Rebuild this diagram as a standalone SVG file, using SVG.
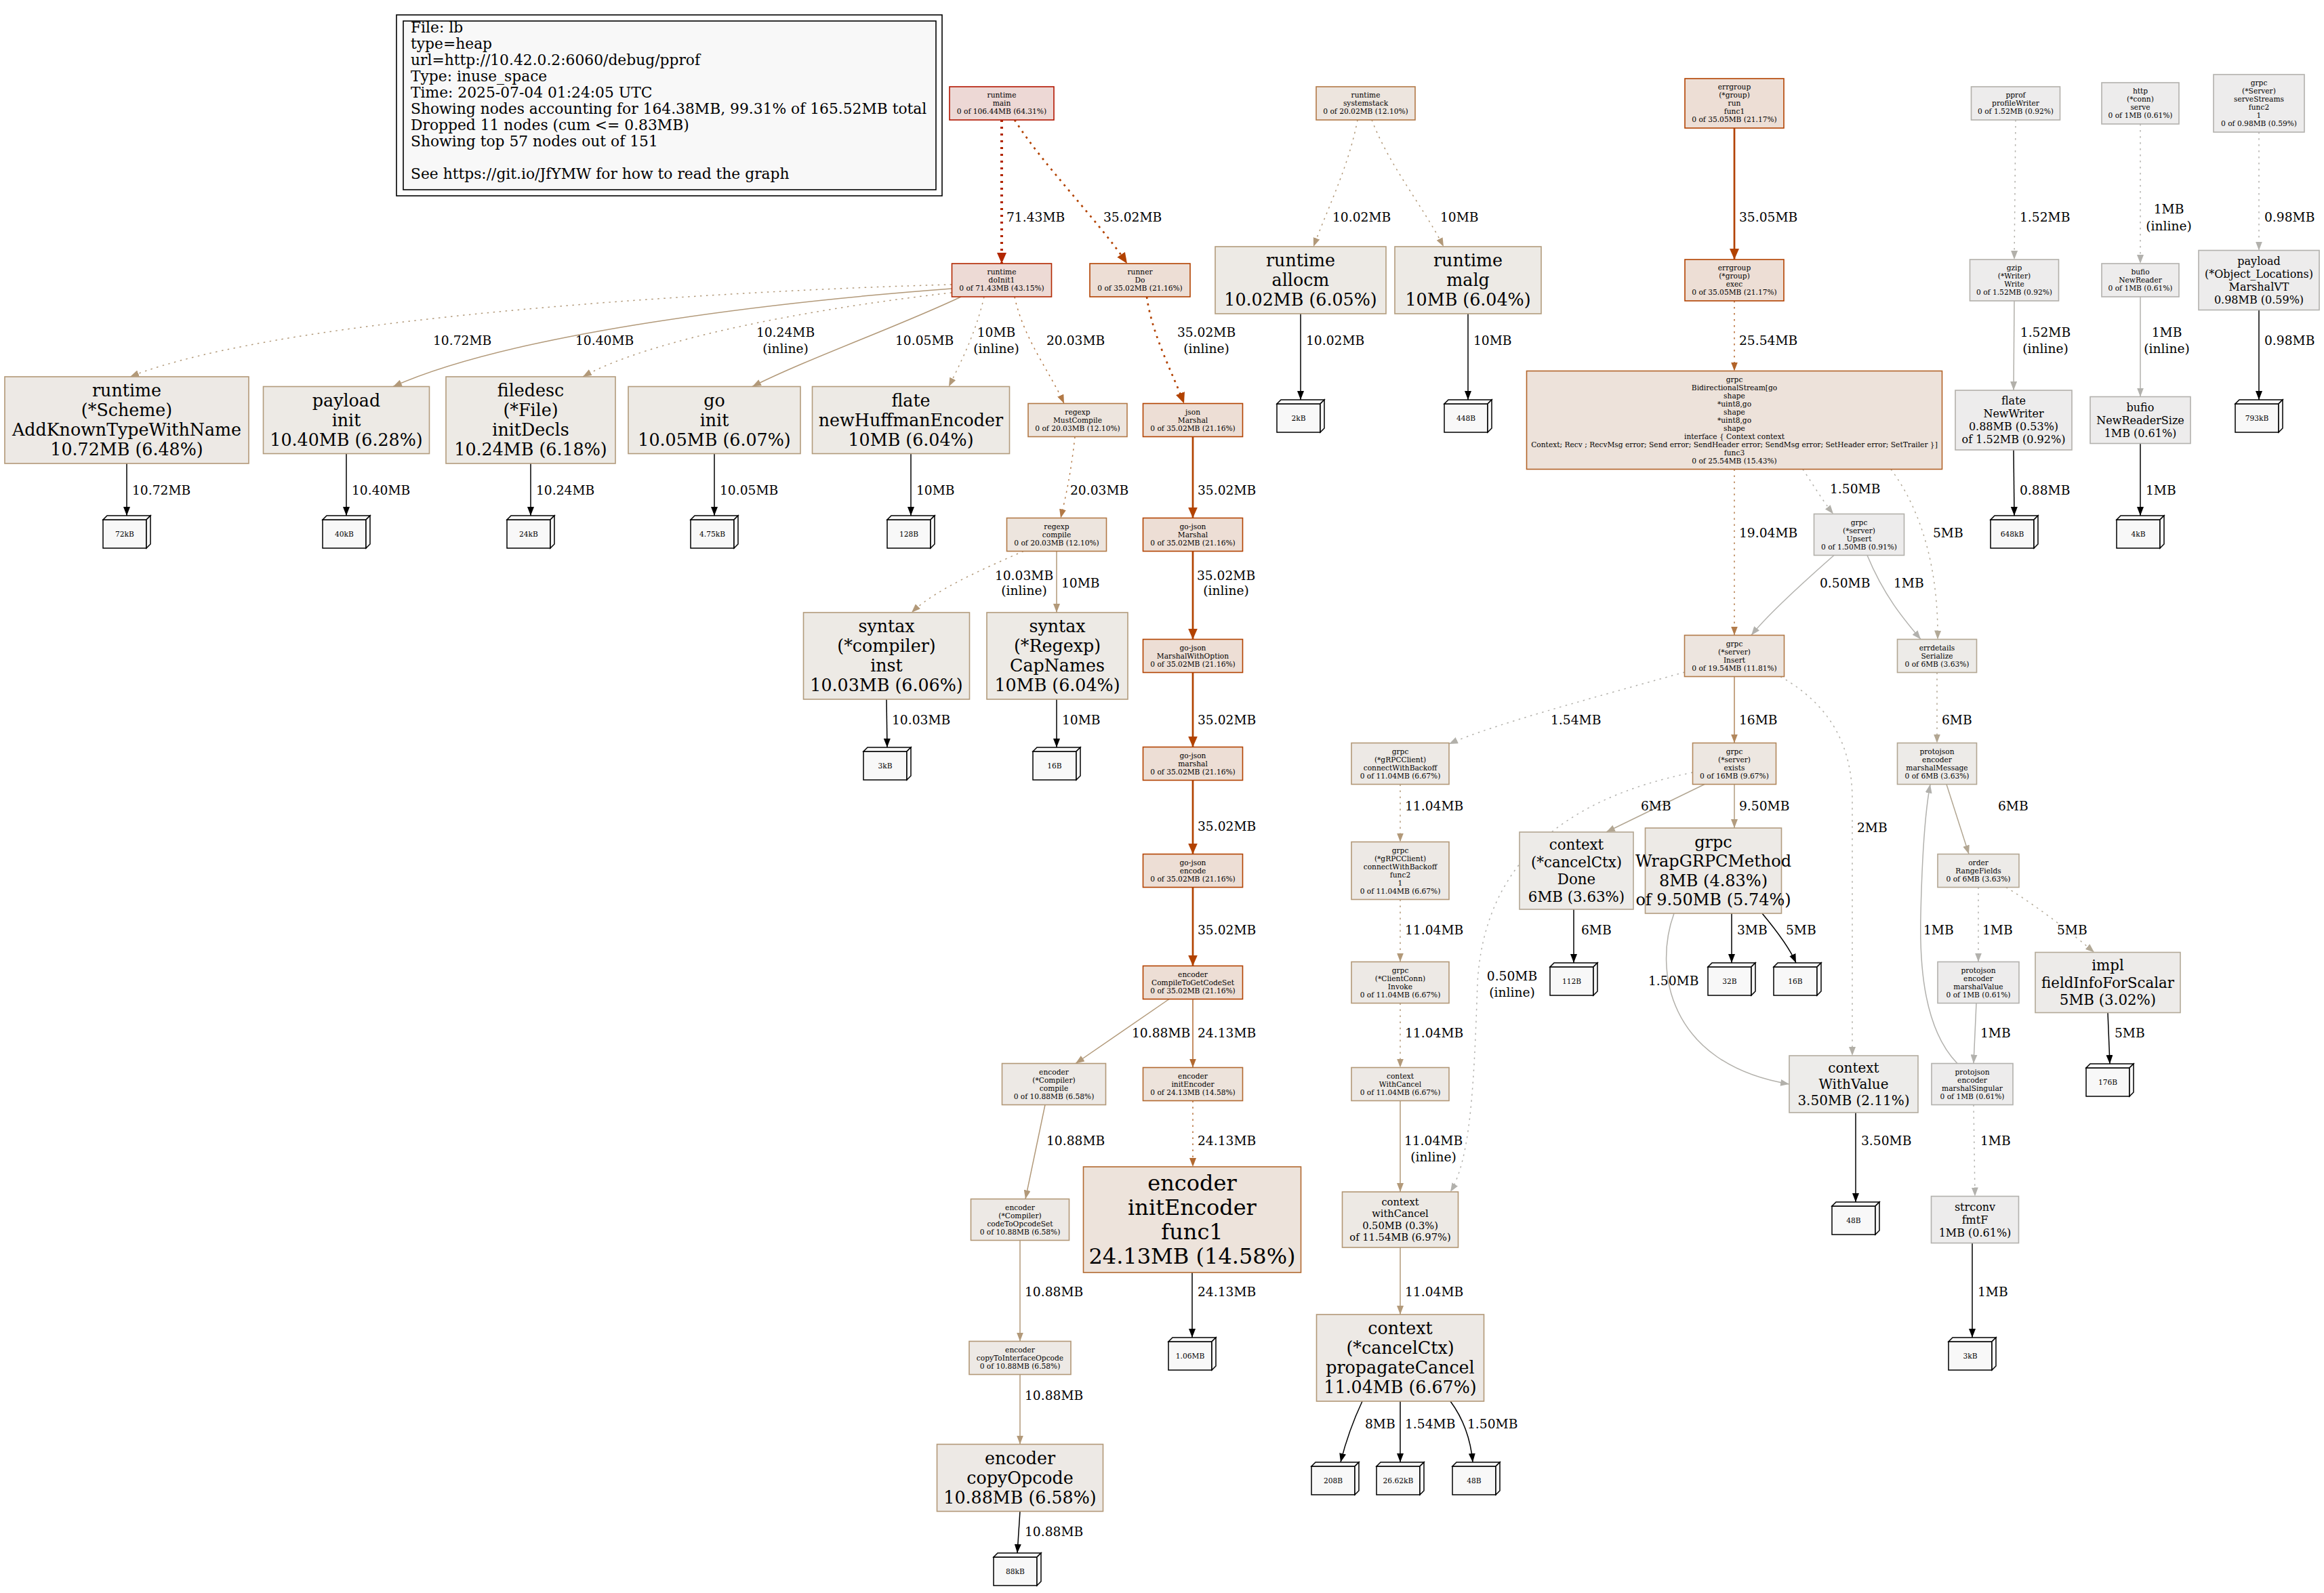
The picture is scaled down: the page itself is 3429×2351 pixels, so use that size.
<svg xmlns="http://www.w3.org/2000/svg" width="3429" height="2351" viewBox="0 0 3429 2351">
<style>
text{font-family:"DejaVu Serif",serif;fill:#000}
.nt{text-anchor:middle}
.f8{font-size:10.67px}.f11{font-size:14.67px}.f12{font-size:16px}.f15{font-size:20px}.f16{font-size:21.33px}.f18{font-size:24px}.f19{font-size:25.33px}.f24{font-size:32px}
.el{font-size:18.67px}.elc{font-size:18.67px;text-anchor:middle}.lg{font-size:21.8px}
.lf{fill:#f8f8f8;stroke:#000;stroke-width:1.5}
rect{stroke-width:1.6}
.k64{fill:#edd8d5;stroke:#b21600}.k43{fill:#eddad5;stroke:#b22700}.k21{fill:#edded5;stroke:#b24200}.k15{fill:#ede2da;stroke:#b26328}.k14{fill:#ede3db;stroke:#b26930}.k12{fill:#ede5de;stroke:#b27946}.k11{fill:#ede5df;stroke:#b27a49}.k9{fill:#ede7e1;stroke:#b2875c}.k7{fill:#ede9e4;stroke:#b29674}.k6{fill:#ede9e5;stroke:#b29877}.k6b{fill:#edeae5;stroke:#b29b7c}.k5{fill:#edeae6;stroke:#b29c7f}.k3{fill:#edebe8;stroke:#b2a692}.k3b{fill:#edebe9;stroke:#b2a997}.k2{fill:#edecea;stroke:#b2ac9f}.k1{fill:#edecec;stroke:#b2b0aa}.k0{fill:#edecec;stroke:#b2b1ad}
.e{fill:none;stroke-width:1.5}.d{stroke-dasharray:2.5 6.5}.w2{stroke-width:2.7}.w3{stroke-width:4}.w2.d,.w3.d{stroke-dasharray:3 7}
.c-red{stroke:#b22700;marker-end:url(#a-red)}.c-or{stroke:#b24200;marker-end:url(#a-or)}.c-cu{stroke:#b26328;marker-end:url(#a-cu)}.c-cu2{stroke:#b26930;marker-end:url(#a-cu2)}.c-ot{stroke:#b27946;marker-end:url(#a-ot)}.c-ot2{stroke:#b27c4b;marker-end:url(#a-ot2)}.c-bt{stroke:#b2875c;marker-end:url(#a-bt)}.c-tan{stroke:#b29979;marker-end:url(#a-tan)}.c-tl{stroke:#b29c7f;marker-end:url(#a-tl)}.c-kh{stroke:#b2a692;marker-end:url(#a-kh)}.c-kh2{stroke:#b2a997;marker-end:url(#a-kh2)}.c-g2{stroke:#b2afa7;marker-end:url(#a-g2)}.c-g{stroke:#b2b0aa;marker-end:url(#a-g)}.c-g1{stroke:#b2b1ad;marker-end:url(#a-g1)}.c-k{stroke:#000;marker-end:url(#a-k)}
</style>
<defs>
<marker id="a-red" viewBox="0 0 16 14" refX="16" refY="7" markerWidth="16" markerHeight="14" markerUnits="userSpaceOnUse" orient="auto"><path d="M0,0L16,7L0,14z" fill="#b22700"/></marker>
<marker id="a-or" viewBox="0 0 16 14" refX="16" refY="7" markerWidth="16" markerHeight="14" markerUnits="userSpaceOnUse" orient="auto"><path d="M0,0L16,7L0,14z" fill="#b24200"/></marker>
<marker id="a-cu" viewBox="0 0 13 10" refX="13" refY="5" markerWidth="13" markerHeight="10" markerUnits="userSpaceOnUse" orient="auto"><path d="M0,0L13,5L0,10z" fill="#b26328"/></marker>
<marker id="a-cu2" viewBox="0 0 13 10" refX="13" refY="5" markerWidth="13" markerHeight="10" markerUnits="userSpaceOnUse" orient="auto"><path d="M0,0L13,5L0,10z" fill="#b26930"/></marker>
<marker id="a-ot" viewBox="0 0 13 10" refX="13" refY="5" markerWidth="13" markerHeight="10" markerUnits="userSpaceOnUse" orient="auto"><path d="M0,0L13,5L0,10z" fill="#b27946"/></marker>
<marker id="a-ot2" viewBox="0 0 13 10" refX="13" refY="5" markerWidth="13" markerHeight="10" markerUnits="userSpaceOnUse" orient="auto"><path d="M0,0L13,5L0,10z" fill="#b27c4b"/></marker>
<marker id="a-bt" viewBox="0 0 13 10" refX="13" refY="5" markerWidth="13" markerHeight="10" markerUnits="userSpaceOnUse" orient="auto"><path d="M0,0L13,5L0,10z" fill="#b2875c"/></marker>
<marker id="a-tan" viewBox="0 0 13 10" refX="13" refY="5" markerWidth="13" markerHeight="10" markerUnits="userSpaceOnUse" orient="auto"><path d="M0,0L13,5L0,10z" fill="#b29979"/></marker>
<marker id="a-tl" viewBox="0 0 13 10" refX="13" refY="5" markerWidth="13" markerHeight="10" markerUnits="userSpaceOnUse" orient="auto"><path d="M0,0L13,5L0,10z" fill="#b29c7f"/></marker>
<marker id="a-kh" viewBox="0 0 13 10" refX="13" refY="5" markerWidth="13" markerHeight="10" markerUnits="userSpaceOnUse" orient="auto"><path d="M0,0L13,5L0,10z" fill="#b2a692"/></marker>
<marker id="a-kh2" viewBox="0 0 13 10" refX="13" refY="5" markerWidth="13" markerHeight="10" markerUnits="userSpaceOnUse" orient="auto"><path d="M0,0L13,5L0,10z" fill="#b2a997"/></marker>
<marker id="a-g2" viewBox="0 0 13 10" refX="13" refY="5" markerWidth="13" markerHeight="10" markerUnits="userSpaceOnUse" orient="auto"><path d="M0,0L13,5L0,10z" fill="#b2afa7"/></marker>
<marker id="a-g" viewBox="0 0 13 10" refX="13" refY="5" markerWidth="13" markerHeight="10" markerUnits="userSpaceOnUse" orient="auto"><path d="M0,0L13,5L0,10z" fill="#b2b0aa"/></marker>
<marker id="a-g1" viewBox="0 0 13 10" refX="13" refY="5" markerWidth="13" markerHeight="10" markerUnits="userSpaceOnUse" orient="auto"><path d="M0,0L13,5L0,10z" fill="#b2b1ad"/></marker>
<marker id="a-k" viewBox="0 0 13 10" refX="13" refY="5" markerWidth="13" markerHeight="10" markerUnits="userSpaceOnUse" orient="auto"><path d="M0,0L13,5L0,10z" fill="#000"/></marker>
<g id="b3"><path class="lf" d="M-35,-18h64v42h-64z"/><path class="lf" d="M-35,-18l6,-6h64l-6,6z"/><path class="lf" d="M29,-18l6,-6v42l-6,6z"/></g>
</defs>
<rect x="0" y="0" width="3429" height="2351" fill="#fff"/>

<g id="legend">
<rect x="585" y="22" width="805" height="267" fill="#fff" stroke="#000"/>
<rect x="595" y="31" width="786" height="249" fill="#f8f8f8" stroke="#000"/>
<text class="lg" x="606" y="48">File: lb</text>
<text class="lg" x="606" y="72">type=heap</text>
<text class="lg" x="606" y="96">url=http://10.42.0.2:6060/debug/pprof</text>
<text class="lg" x="606" y="120">Type: inuse_space</text>
<text class="lg" x="606" y="144">Time: 2025-07-04 01:24:05 UTC</text>
<text class="lg" x="606" y="168">Showing nodes accounting for 164.38MB, 99.31% of 165.52MB total</text>
<text class="lg" x="606" y="192">Dropped 11 nodes (cum &lt;= 0.83MB)</text>
<text class="lg" x="606" y="216">Showing top 57 nodes out of 151</text>
<text class="lg" x="606" y="264">See https://git.io/JfYMW for how to read the graph</text>
</g>

<g id="edges">
<path class="e d w3 c-red" d="M1478,177L1478,389"/>
<path class="e d w2 c-or" d="M1497,177C1540,245 1620,325 1663,389"/>
<path class="e d c-tan" d="M1404,420C1100,428 420,465 192,556"/>
<path class="e c-tan" d="M1404,426C1150,445 760,490 580,570.5"/>
<path class="e d c-tan" d="M1404,432C1200,455 960,500 860,556"/>
<path class="e c-tan" d="M1418,438C1330,480 1190,530 1110,570.5"/>
<path class="e d c-tan" d="M1452,438C1440,490 1420,530 1400,570.5"/>
<path class="e d c-ot" d="M1497,438C1510,500 1550,550 1570,595.5"/>
<path class="e d w2 c-or" d="M1692,438C1700,495 1730,550 1747,595.5"/>
<path class="e d c-tan" d="M2003,177C1990,245 1960,305 1938,364"/>
<path class="e d c-tan" d="M2024,177C2050,245 2100,305 2130,364"/>
<path class="e c-k" d="M1919,463L1919,590"/>
<path class="e c-k" d="M2166,463L2166,590"/>
<path class="e w2 c-or" d="M2559,189L2559,383"/>
<path class="e d c-cu" d="M2559,444L2559,547.5"/>
<path class="e d c-g" d="M2974,177L2972,383"/>
<path class="e c-g" d="M2972,444L2971,576"/>
<path class="e c-k" d="M2971,664L2972,761"/>
<path class="e d c-g1" d="M3158,183L3158,389"/>
<path class="e c-g1" d="M3158,438L3158,585.5"/>
<path class="e c-k" d="M3158,654.5L3158,761"/>
<path class="e d c-g1" d="M3333,195L3333,369.5"/>
<path class="e c-k" d="M3333,457.5L3333,590"/>
<path class="e c-k" d="M187,684L187,761"/>
<path class="e c-k" d="M511,669.5L511,761"/>
<path class="e c-k" d="M783,684L783,761"/>
<path class="e c-k" d="M1054,669.5L1054,761"/>
<path class="e c-k" d="M1344,669.5L1344,761"/>
<path class="e d c-ot" d="M1586,644.5C1580,700 1572,735 1565,764.5"/>
<path class="e w2 c-or" d="M1760,644.5L1760,764.5"/>
<path class="e d c-tan" d="M1510,813.5C1450,840 1380,870 1345,904"/>
<path class="e c-tan" d="M1559,813.5L1559,904"/>
<path class="e w2 c-or" d="M1760,813.5L1760,943.5"/>
<path class="e c-k" d="M1308,1032L1309,1103"/>
<path class="e c-k" d="M1559,1032L1559,1103"/>
<path class="e w2 c-or" d="M1760,992.5L1760,1102.5"/>
<path class="e w2 c-or" d="M1760,1151.5L1760,1260.5"/>
<path class="e w2 c-or" d="M1760,1309.5L1760,1425.5"/>
<path class="e c-tan" d="M1725,1474.5L1587,1569.5"/>
<path class="e c-cu2" d="M1760,1474.5L1760,1575.5"/>
<path class="e c-tan" d="M1542,1630.5L1513,1769.5"/>
<path class="e d c-cu2" d="M1760,1624.5L1760,1722"/>
<path class="e c-tan" d="M1505,1830.5L1505,1979.5"/>
<path class="e c-k" d="M1759,1878L1759,1974"/>
<path class="e c-tan" d="M1505,2028.5L1505,2131.5"/>
<path class="e c-k" d="M1505,2230.5L1501,2292"/>
<path class="e d c-ot2" d="M2559,692.5L2559,937.5"/>
<path class="e d c-g" d="M2660,692.5C2675,715 2690,740 2705,758.5"/>
<path class="e d c-kh2" d="M2790,692.5C2840,760 2860,850 2859,943.5"/>
<path class="e c-g1" d="M2706,819.5C2660,860 2610,905 2584,937.5"/>
<path class="e c-g1" d="M2755,819.5C2780,880 2810,915 2834,943.5"/>
<path class="e d c-g" d="M2485.5,992C2350,1030 2200,1070 2138,1098"/>
<path class="e c-bt" d="M2559,998.5L2559,1096.5"/>
<path class="e d c-g2" d="M2627,998.5C2700,1040 2733,1100 2733,1180L2733,1558"/>
<path class="e d c-kh" d="M2858,992.5L2858,1096.5"/>
<path class="e c-kh" d="M2515,1157.5L2370,1228"/>
<path class="e c-tl" d="M2559,1157.5L2559,1222"/>
<path class="e d c-g1" d="M2497.5,1140C2300,1180 2190,1280 2180,1450C2175,1600 2170,1710 2140,1759"/>
<path class="e d c-tan" d="M2066,1157.5L2066,1242.5"/>
<path class="e d c-tan" d="M2066,1327.5L2066,1419.5"/>
<path class="e d c-tan" d="M2066,1480.5L2066,1575.5"/>
<path class="e c-tan" d="M2066,1624.5L2066,1759"/>
<path class="e c-tan" d="M2066,1841L2066,1940"/>
<path class="e c-k" d="M2010,2068C1995,2100 1985,2130 1978,2158"/>
<path class="e c-k" d="M2066,2068L2066,2158"/>
<path class="e c-k" d="M2140,2068C2160,2095 2170,2125 2173,2158"/>
<path class="e c-k" d="M2322,1342L2322,1421"/>
<path class="e c-k" d="M2555,1348L2555,1421"/>
<path class="e c-k" d="M2600,1348C2620,1372 2640,1398 2650,1421"/>
<path class="e c-g" d="M2470,1348C2440,1430 2460,1570 2640,1600"/>
<path class="e c-k" d="M2738,1642L2738,1774"/>
<path class="e c-kh" d="M2872,1157.5L2905,1260.5"/>
<path class="e d c-g1" d="M2919,1309.5L2919,1419.5"/>
<path class="e d c-kh2" d="M2960,1309.5C3010,1340 3060,1380 3090,1405.5"/>
<path class="e c-g1" d="M2916,1480.5L2912,1569.5"/>
<path class="e c-g1" d="M2888,1569.5C2840,1520 2832,1430 2834,1350C2836,1260 2840,1200 2848,1157.5"/>
<path class="e c-k" d="M3110,1494.5L3113,1570"/>
<path class="e d c-g1" d="M2912,1630.5L2914,1765.5"/>
<path class="e c-k" d="M2910,1834.5L2910,1974"/>
</g>

<g id="edge-labels">
<text class="el" x="1485" y="327">71.43MB</text>
<text class="el" x="1628" y="327">35.02MB</text>
<text class="el" x="1966" y="327">10.02MB</text>
<text class="el" x="2125" y="327">10MB</text>
<text class="el" x="2566" y="327">35.05MB</text>
<text class="el" x="2980" y="327">1.52MB</text>
<text class="elc" x="3200" y="315">1MB</text><text class="elc" x="3200" y="340">(inline)</text>
<text class="el" x="3341" y="327">0.98MB</text>
<text class="el" x="639" y="509">10.72MB</text>
<text class="el" x="849" y="509">10.40MB</text>
<text class="elc" x="1159" y="497">10.24MB</text><text class="elc" x="1159" y="521">(inline)</text>
<text class="el" x="1321" y="509">10.05MB</text>
<text class="elc" x="1470" y="497">10MB</text><text class="elc" x="1470" y="521">(inline)</text>
<text class="el" x="1544" y="509">20.03MB</text>
<text class="elc" x="1780" y="497">35.02MB</text><text class="elc" x="1780" y="521">(inline)</text>
<text class="el" x="1927" y="509">10.02MB</text>
<text class="el" x="2174" y="509">10MB</text>
<text class="el" x="2566" y="509">25.54MB</text>
<text class="elc" x="3018" y="497">1.52MB</text><text class="elc" x="3018" y="521">(inline)</text>
<text class="elc" x="3197" y="497">1MB</text><text class="elc" x="3197" y="521">(inline)</text>
<text class="el" x="3341" y="509">0.98MB</text>
<text class="el" x="195" y="730">10.72MB</text>
<text class="el" x="519" y="730">10.40MB</text>
<text class="el" x="791" y="730">10.24MB</text>
<text class="el" x="1062" y="730">10.05MB</text>
<text class="el" x="1352" y="730">10MB</text>
<text class="el" x="1579" y="730">20.03MB</text>
<text class="el" x="1767" y="730">35.02MB</text>
<text class="el" x="2980" y="730">0.88MB</text>
<text class="el" x="3166" y="730">1MB</text>
<text class="el" x="2700" y="728">1.50MB</text>
<text class="el" x="2566" y="793">19.04MB</text>
<text class="el" x="2852" y="793">5MB</text>
<text class="elc" x="1511" y="856">10.03MB</text><text class="elc" x="1511" y="878">(inline)</text>
<text class="el" x="1566" y="867">10MB</text>
<text class="elc" x="1809" y="856">35.02MB</text><text class="elc" x="1809" y="878">(inline)</text>
<text class="el" x="2685" y="867">0.50MB</text>
<text class="el" x="2794" y="867">1MB</text>
<text class="el" x="1316" y="1069">10.03MB</text>
<text class="el" x="1567" y="1069">10MB</text>
<text class="el" x="1767" y="1069">35.02MB</text>
<text class="el" x="2288" y="1069">1.54MB</text>
<text class="el" x="2566" y="1069">16MB</text>
<text class="el" x="2865" y="1069">6MB</text>
<text class="el" x="1767" y="1226">35.02MB</text>
<text class="el" x="2073" y="1196">11.04MB</text>
<text class="el" x="2421" y="1196">6MB</text>
<text class="el" x="2566" y="1196">9.50MB</text>
<text class="el" x="2740" y="1228">2MB</text>
<text class="el" x="2948" y="1196">6MB</text>
<text class="el" x="1767" y="1379">35.02MB</text>
<text class="el" x="2073" y="1379">11.04MB</text>
<text class="el" x="2333" y="1379">6MB</text>
<text class="el" x="2563" y="1379">3MB</text>
<text class="el" x="2635" y="1379">5MB</text>
<text class="el" x="2838" y="1379">1MB</text>
<text class="el" x="2925" y="1379">1MB</text>
<text class="el" x="3035" y="1379">5MB</text>
<text class="elc" x="2231" y="1447">0.50MB</text><text class="elc" x="2231" y="1471">(inline)</text>
<text class="el" x="2432" y="1454">1.50MB</text>
<text class="el" x="1670" y="1531">10.88MB</text>
<text class="el" x="1767" y="1531">24.13MB</text>
<text class="el" x="2073" y="1531">11.04MB</text>
<text class="el" x="2922" y="1531">1MB</text>
<text class="el" x="3120" y="1531">5MB</text>
<text class="el" x="1544" y="1690">10.88MB</text>
<text class="el" x="1767" y="1690">24.13MB</text>
<text class="elc" x="2115" y="1690">11.04MB</text><text class="elc" x="2115" y="1714">(inline)</text>
<text class="el" x="2746" y="1690">3.50MB</text>
<text class="el" x="2922" y="1690">1MB</text>
<text class="el" x="1512" y="1913">10.88MB</text>
<text class="el" x="1767" y="1913">24.13MB</text>
<text class="el" x="2073" y="1913">11.04MB</text>
<text class="el" x="2918" y="1913">1MB</text>
<text class="el" x="1512" y="2066">10.88MB</text>
<text class="el" x="2014" y="2108">8MB</text>
<text class="el" x="2073" y="2108">1.54MB</text>
<text class="el" x="2165" y="2108">1.50MB</text>
<text class="el" x="1512" y="2267">10.88MB</text>
</g>

<g id="node-runtime-main"><rect class="k64" x="1401" y="128" width="154" height="49"/><text class="nt f8" x="1478" y="144.2">runtime<tspan x="1478" dy="12">main</tspan><tspan x="1478" dy="12">0 of 106.44MB (64.31%)</tspan></text></g>
<g id="node-runtime-systemstack"><rect class="k12" x="1942" y="128" width="146" height="49"/><text class="nt f8" x="2015" y="144.2">runtime<tspan x="2015" dy="12">systemstack</tspan><tspan x="2015" dy="12">0 of 20.02MB (12.10%)</tspan></text></g>
<g id="node-errgroup-run-func1"><rect class="k21" x="2486" y="116" width="146" height="73"/><text class="nt f8" x="2559" y="132.2">errgroup<tspan x="2559" dy="12">(*group)</tspan><tspan x="2559" dy="12">run</tspan><tspan x="2559" dy="12">func1</tspan><tspan x="2559" dy="12">0 of 35.05MB (21.17%)</tspan></text></g>
<g id="node-pprof-profileWriter"><rect class="k1" x="2908.5" y="128" width="131" height="49"/><text class="nt f8" x="2974" y="144.2">pprof<tspan x="2974" dy="12">profileWriter</tspan><tspan x="2974" dy="12">0 of 1.52MB (0.92%)</tspan></text></g>
<g id="node-http-conn-serve"><rect class="k0" x="3101" y="122" width="114" height="61"/><text class="nt f8" x="3158" y="138.2">http<tspan x="3158" dy="12">(*conn)</tspan><tspan x="3158" dy="12">serve</tspan><tspan x="3158" dy="12">0 of 1MB (0.61%)</tspan></text></g>
<g id="node-grpc-serveStreams"><rect class="k0" x="3266" y="110" width="134" height="85"/><text class="nt f8" x="3333" y="126.2">grpc<tspan x="3333" dy="12">(*Server)</tspan><tspan x="3333" dy="12">serveStreams</tspan><tspan x="3333" dy="12">func2</tspan><tspan x="3333" dy="12">1</tspan><tspan x="3333" dy="12">0 of 0.98MB (0.59%)</tspan></text></g>

<g id="node-runtime-doInit1"><rect class="k43" x="1404.5" y="389" width="147" height="49"/><text class="nt f8" x="1478" y="405.2">runtime<tspan x="1478" dy="12">doInit1</tspan><tspan x="1478" dy="12">0 of 71.43MB (43.15%)</tspan></text></g>
<g id="node-runner-Do"><rect class="k21" x="1608" y="389" width="148" height="49"/><text class="nt f8" x="1682" y="405.2">runner<tspan x="1682" dy="12">Do</tspan><tspan x="1682" dy="12">0 of 35.02MB (21.16%)</tspan></text></g>
<g id="node-runtime-allocm"><rect class="k6b" x="1793" y="364" width="252" height="99"/><text class="nt f19" x="1919" y="393.4">runtime<tspan x="1919" dy="29">allocm</tspan><tspan x="1919" dy="29">10.02MB (6.05%)</tspan></text></g>
<g id="node-runtime-malg"><rect class="k6b" x="2058" y="364" width="216" height="99"/><text class="nt f19" x="2166" y="393.4">runtime<tspan x="2166" dy="29">malg</tspan><tspan x="2166" dy="29">10MB (6.04%)</tspan></text></g>
<g id="node-errgroup-exec"><rect class="k21" x="2486" y="383" width="146" height="61"/><text class="nt f8" x="2559" y="399.2">errgroup<tspan x="2559" dy="12">(*group)</tspan><tspan x="2559" dy="12">exec</tspan><tspan x="2559" dy="12">0 of 35.05MB (21.17%)</tspan></text></g>
<g id="node-gzip-Write"><rect class="k1" x="2906.5" y="383" width="131" height="61"/><text class="nt f8" x="2972" y="399.2">gzip<tspan x="2972" dy="12">(*Writer)</tspan><tspan x="2972" dy="12">Write</tspan><tspan x="2972" dy="12">0 of 1.52MB (0.92%)</tspan></text></g>
<g id="node-bufio-NewReader"><rect class="k0" x="3101" y="389" width="114" height="49"/><text class="nt f8" x="3158" y="405.2">bufio<tspan x="3158" dy="12">NewReader</tspan><tspan x="3158" dy="12">0 of 1MB (0.61%)</tspan></text></g>
<g id="node-payload-MarshalVT"><rect class="k0" x="3244" y="369.5" width="178" height="88"/><text class="nt f12" x="3333" y="390.6">payload<tspan x="3333" dy="19">(*Object_Locations)</tspan><tspan x="3333" dy="19">MarshalVT</tspan><tspan x="3333" dy="19">0.98MB (0.59%)</tspan></text></g>

<g id="node-runtime-Scheme"><rect class="k6" x="7" y="556" width="360" height="128"/><text class="nt f19" x="187" y="585.4">runtime<tspan x="187" dy="29">(*Scheme)</tspan><tspan x="187" dy="29">AddKnownTypeWithName</tspan><tspan x="187" dy="29">10.72MB (6.48%)</tspan></text></g>
<g id="node-payload-init"><rect class="k6b" x="388.5" y="570.5" width="245" height="99"/><text class="nt f19" x="511" y="599.9">payload<tspan x="511" dy="29">init</tspan><tspan x="511" dy="29">10.40MB (6.28%)</tspan></text></g>
<g id="node-filedesc-initDecls"><rect class="k6b" x="658" y="556" width="250" height="128"/><text class="nt f19" x="783" y="585.4">filedesc<tspan x="783" dy="29">(*File)</tspan><tspan x="783" dy="29">initDecls</tspan><tspan x="783" dy="29">10.24MB (6.18%)</tspan></text></g>
<g id="node-go-init"><rect class="k6b" x="927" y="570.5" width="254" height="99"/><text class="nt f19" x="1054" y="599.9">go<tspan x="1054" dy="29">init</tspan><tspan x="1054" dy="29">10.05MB (6.07%)</tspan></text></g>
<g id="node-flate-newHuffmanEncoder"><rect class="k6b" x="1198.5" y="570.5" width="291" height="99"/><text class="nt f19" x="1344" y="599.9">flate<tspan x="1344" dy="29">newHuffmanEncoder</tspan><tspan x="1344" dy="29">10MB (6.04%)</tspan></text></g>
<g id="node-regexp-MustCompile"><rect class="k12" x="1517" y="595.5" width="146" height="49"/><text class="nt f8" x="1590" y="611.7">regexp<tspan x="1590" dy="12">MustCompile</tspan><tspan x="1590" dy="12">0 of 20.03MB (12.10%)</tspan></text></g>
<g id="node-json-Marshal"><rect class="k21" x="1686.5" y="595.5" width="147" height="49"/><text class="nt f8" x="1760" y="611.7">json<tspan x="1760" dy="12">Marshal</tspan><tspan x="1760" dy="12">0 of 35.02MB (21.16%)</tspan></text></g>
<g id="node-grpc-BidirectionalStream"><rect class="k15" x="2252.5" y="547.5" width="613" height="145"/><text class="nt f8" x="2559" y="563.7">grpc<tspan x="2559" dy="12">BidirectionalStream[go</tspan><tspan x="2559" dy="12">shape</tspan><tspan x="2559" dy="12">*uint8,go</tspan><tspan x="2559" dy="12">shape</tspan><tspan x="2559" dy="12">*uint8,go</tspan><tspan x="2559" dy="12">shape</tspan><tspan x="2559" dy="12">interface { Context context</tspan><tspan x="2559" dy="12">Context; Recv ; RecvMsg error; Send error; SendHeader error; SendMsg error; SetHeader error; SetTrailer }]</tspan><tspan x="2559" dy="12">func3</tspan><tspan x="2559" dy="12">0 of 25.54MB (15.43%)</tspan></text></g>
<g id="node-flate-NewWriter"><rect class="k1" x="2885" y="576" width="172" height="88"/><text class="nt f12" x="2971" y="597.1">flate<tspan x="2971" dy="19">NewWriter</tspan><tspan x="2971" dy="19">0.88MB (0.53%)</tspan><tspan x="2971" dy="19">of 1.52MB (0.92%)</tspan></text></g>
<g id="node-bufio-NewReaderSize"><rect class="k0" x="3084" y="585.5" width="148" height="69"/><text class="nt f12" x="3158" y="606.6">bufio<tspan x="3158" dy="19">NewReaderSize</tspan><tspan x="3158" dy="19">1MB (0.61%)</tspan></text></g>

<g id="node-regexp-compile"><rect class="k12" x="1485.5" y="764.5" width="147" height="49"/><text class="nt f8" x="1559" y="780.7">regexp<tspan x="1559" dy="12">compile</tspan><tspan x="1559" dy="12">0 of 20.03MB (12.10%)</tspan></text></g>
<g id="node-gojson-Marshal"><rect class="k21" x="1686.5" y="764.5" width="147" height="49"/><text class="nt f8" x="1760" y="780.7">go-json<tspan x="1760" dy="12">Marshal</tspan><tspan x="1760" dy="12">0 of 35.02MB (21.16%)</tspan></text></g>
<g id="node-grpc-Upsert"><rect class="k1" x="2676.5" y="758.5" width="133" height="61"/><text class="nt f8" x="2743" y="774.7">grpc<tspan x="2743" dy="12">(*server)</tspan><tspan x="2743" dy="12">Upsert</tspan><tspan x="2743" dy="12">0 of 1.50MB (0.91%)</tspan></text></g>

<g id="node-syntax-inst"><rect class="k6b" x="1185.5" y="904" width="245" height="128"/><text class="nt f19" x="1308" y="933.4">syntax<tspan x="1308" dy="29">(*compiler)</tspan><tspan x="1308" dy="29">inst</tspan><tspan x="1308" dy="29">10.03MB (6.06%)</tspan></text></g>
<g id="node-syntax-CapNames"><rect class="k6b" x="1456" y="904" width="208" height="128"/><text class="nt f19" x="1560" y="933.4">syntax<tspan x="1560" dy="29">(*Regexp)</tspan><tspan x="1560" dy="29">CapNames</tspan><tspan x="1560" dy="29">10MB (6.04%)</tspan></text></g>
<g id="node-gojson-MarshalWithOption"><rect class="k21" x="1686.5" y="943.5" width="147" height="49"/><text class="nt f8" x="1760" y="959.7">go-json<tspan x="1760" dy="12">MarshalWithOption</tspan><tspan x="1760" dy="12">0 of 35.02MB (21.16%)</tspan></text></g>
<g id="node-grpc-Insert"><rect class="k11" x="2485.5" y="937.5" width="147" height="61"/><text class="nt f8" x="2559" y="953.7">grpc<tspan x="2559" dy="12">(*server)</tspan><tspan x="2559" dy="12">Insert</tspan><tspan x="2559" dy="12">0 of 19.54MB (11.81%)</tspan></text></g>
<g id="node-errdetails-Serialize"><rect class="k3" x="2799.5" y="943.5" width="117" height="49"/><text class="nt f8" x="2858" y="959.7">errdetails<tspan x="2858" dy="12">Serialize</tspan><tspan x="2858" dy="12">0 of 6MB (3.63%)</tspan></text></g>

<g id="node-gojson-marshal"><rect class="k21" x="1686.5" y="1102.5" width="147" height="49"/><text class="nt f8" x="1760" y="1118.7">go-json<tspan x="1760" dy="12">marshal</tspan><tspan x="1760" dy="12">0 of 35.02MB (21.16%)</tspan></text></g>
<g id="node-grpc-connectWithBackoff"><rect class="k6" x="1994" y="1096.5" width="144" height="61"/><text class="nt f8" x="2066" y="1112.7">grpc<tspan x="2066" dy="12">(*gRPCClient)</tspan><tspan x="2066" dy="12">connectWithBackoff</tspan><tspan x="2066" dy="12">0 of 11.04MB (6.67%)</tspan></text></g>
<g id="node-grpc-exists"><rect class="k9" x="2497.5" y="1096.5" width="123" height="61"/><text class="nt f8" x="2559" y="1112.7">grpc<tspan x="2559" dy="12">(*server)</tspan><tspan x="2559" dy="12">exists</tspan><tspan x="2559" dy="12">0 of 16MB (9.67%)</tspan></text></g>
<g id="node-protojson-marshalMessage"><rect class="k3" x="2799.5" y="1096.5" width="117" height="61"/><text class="nt f8" x="2858" y="1112.7">protojson<tspan x="2858" dy="12">encoder</tspan><tspan x="2858" dy="12">marshalMessage</tspan><tspan x="2858" dy="12">0 of 6MB (3.63%)</tspan></text></g>

<g id="node-gojson-encode"><rect class="k21" x="1686.5" y="1260.5" width="147" height="49"/><text class="nt f8" x="1760" y="1276.7">go-json<tspan x="1760" dy="12">encode</tspan><tspan x="1760" dy="12">0 of 35.02MB (21.16%)</tspan></text></g>
<g id="node-grpc-connectWithBackoff-func2"><rect class="k6" x="1994" y="1242.5" width="144" height="85"/><text class="nt f8" x="2066" y="1258.7">grpc<tspan x="2066" dy="12">(*gRPCClient)</tspan><tspan x="2066" dy="12">connectWithBackoff</tspan><tspan x="2066" dy="12">func2</tspan><tspan x="2066" dy="12">1</tspan><tspan x="2066" dy="12">0 of 11.04MB (6.67%)</tspan></text></g>
<g id="node-context-Done"><rect class="k3" x="2242" y="1228" width="168" height="114"/><text class="nt f16" x="2326" y="1254.1">context<tspan x="2326" dy="25.6">(*cancelCtx)</tspan><tspan x="2326" dy="25.6">Done</tspan><tspan x="2326" dy="25.6">6MB (3.63%)</tspan></text></g>
<g id="node-grpc-WrapGRPCMethod"><rect class="k5" x="2427.5" y="1222" width="201" height="126"/><text class="nt f18" x="2528" y="1250.65">grpc<tspan x="2528" dy="28.5">WrapGRPCMethod</tspan><tspan x="2528" dy="28.5">8MB (4.83%)</tspan><tspan x="2528" dy="28.5">of 9.50MB (5.74%)</tspan></text></g>
<g id="node-order-RangeFields"><rect class="k3" x="2859" y="1260.5" width="120" height="49"/><text class="nt f8" x="2919" y="1276.7">order<tspan x="2919" dy="12">RangeFields</tspan><tspan x="2919" dy="12">0 of 6MB (3.63%)</tspan></text></g>

<g id="node-encoder-CompileToGetCodeSet"><rect class="k21" x="1686.5" y="1425.5" width="147" height="49"/><text class="nt f8" x="1760" y="1441.7">encoder<tspan x="1760" dy="12">CompileToGetCodeSet</tspan><tspan x="1760" dy="12">0 of 35.02MB (21.16%)</tspan></text></g>
<g id="node-grpc-Invoke"><rect class="k6" x="1994" y="1419.5" width="144" height="61"/><text class="nt f8" x="2066" y="1435.7">grpc<tspan x="2066" dy="12">(*ClientConn)</tspan><tspan x="2066" dy="12">Invoke</tspan><tspan x="2066" dy="12">0 of 11.04MB (6.67%)</tspan></text></g>
<g id="node-protojson-marshalValue"><rect class="k0" x="2859" y="1419.5" width="120" height="61"/><text class="nt f8" x="2919" y="1435.7">protojson<tspan x="2919" dy="12">encoder</tspan><tspan x="2919" dy="12">marshalValue</tspan><tspan x="2919" dy="12">0 of 1MB (0.61%)</tspan></text></g>
<g id="node-impl-fieldInfoForScalar"><rect class="k3b" x="3003" y="1405.5" width="214" height="89"/><text class="nt f16" x="3110" y="1431.9">impl<tspan x="3110" dy="25.6">fieldInfoForScalar</tspan><tspan x="3110" dy="25.6">5MB (3.02%)</tspan></text></g>

<g id="node-encoder-compile"><rect class="k6" x="1478.5" y="1569.5" width="153" height="61"/><text class="nt f8" x="1555" y="1585.7">encoder<tspan x="1555" dy="12">(*Compiler)</tspan><tspan x="1555" dy="12">compile</tspan><tspan x="1555" dy="12">0 of 10.88MB (6.58%)</tspan></text></g>
<g id="node-encoder-initEncoder"><rect class="k14" x="1686.5" y="1575.5" width="147" height="49"/><text class="nt f8" x="1760" y="1591.7">encoder<tspan x="1760" dy="12">initEncoder</tspan><tspan x="1760" dy="12">0 of 24.13MB (14.58%)</tspan></text></g>
<g id="node-context-WithCancel"><rect class="k6" x="1994" y="1575.5" width="144" height="49"/><text class="nt f8" x="2066" y="1591.7">context<tspan x="2066" dy="12">WithCancel</tspan><tspan x="2066" dy="12">0 of 11.04MB (6.67%)</tspan></text></g>
<g id="node-context-WithValue"><rect class="k2" x="2640" y="1558" width="190" height="84"/><text class="nt f15" x="2735" y="1583">context<tspan x="2735" dy="24">WithValue</tspan><tspan x="2735" dy="24">3.50MB (2.11%)</tspan></text></g>
<g id="node-protojson-marshalSingular"><rect class="k0" x="2850" y="1569.5" width="120" height="61"/><text class="nt f8" x="2910" y="1585.7">protojson<tspan x="2910" dy="12">encoder</tspan><tspan x="2910" dy="12">marshalSingular</tspan><tspan x="2910" dy="12">0 of 1MB (0.61%)</tspan></text></g>

<g id="node-encoder-codeToOpcodeSet"><rect class="k6" x="1432.5" y="1769.5" width="145" height="61"/><text class="nt f8" x="1505" y="1785.7">encoder<tspan x="1505" dy="12">(*Compiler)</tspan><tspan x="1505" dy="12">codeToOpcodeSet</tspan><tspan x="1505" dy="12">0 of 10.88MB (6.58%)</tspan></text></g>
<g id="node-encoder-initEncoder-func1"><rect class="k14" x="1598.5" y="1722" width="321" height="156"/><text class="nt f24" x="1759" y="1757.2">encoder<tspan x="1759" dy="36">initEncoder</tspan><tspan x="1759" dy="36">func1</tspan><tspan x="1759" dy="36">24.13MB (14.58%)</tspan></text></g>
<g id="node-context-withCancel"><rect class="k7" x="1980.5" y="1759" width="171" height="82"/><text class="nt f11" x="2066" y="1778.85">context<tspan x="2066" dy="17.5">withCancel</tspan><tspan x="2066" dy="17.5">0.50MB (0.3%)</tspan><tspan x="2066" dy="17.5">of 11.54MB (6.97%)</tspan></text></g>
<g id="node-strconv-fmtF"><rect class="k0" x="2849.5" y="1765.5" width="129" height="69"/><text class="nt f12" x="2914" y="1786.6">strconv<tspan x="2914" dy="19">fmtF</tspan><tspan x="2914" dy="19">1MB (0.61%)</tspan></text></g>

<g id="node-encoder-copyToInterfaceOpcode"><rect class="k6" x="1430" y="1979.5" width="150" height="49"/><text class="nt f8" x="1505" y="1995.7">encoder<tspan x="1505" dy="12">copyToInterfaceOpcode</tspan><tspan x="1505" dy="12">0 of 10.88MB (6.58%)</tspan></text></g>
<g id="node-context-propagateCancel"><rect class="k6" x="1942.5" y="1940" width="247" height="128"/><text class="nt f19" x="2066" y="1969.4">context<tspan x="2066" dy="29">(*cancelCtx)</tspan><tspan x="2066" dy="29">propagateCancel</tspan><tspan x="2066" dy="29">11.04MB (6.67%)</tspan></text></g>
<g id="node-encoder-copyOpcode"><rect class="k6" x="1382.5" y="2131.5" width="245" height="99"/><text class="nt f19" x="1505" y="2160.9">encoder<tspan x="1505" dy="29">copyOpcode</tspan><tspan x="1505" dy="29">10.88MB (6.58%)</tspan></text></g>

<g id="leaf-2kB"><use href="#b3" x="1919" y="614"/><text class="nt f8" x="1916" y="621">2kB</text></g>
<g id="leaf-448B"><use href="#b3" x="2166" y="614"/><text class="nt f8" x="2163" y="621">448B</text></g>
<g id="leaf-793kB"><use href="#b3" x="3333" y="614"/><text class="nt f8" x="3330" y="621">793kB</text></g>
<g id="leaf-72kB"><use href="#b3" x="187" y="785"/><text class="nt f8" x="184" y="792">72kB</text></g>
<g id="leaf-40kB"><use href="#b3" x="511" y="785"/><text class="nt f8" x="508" y="792">40kB</text></g>
<g id="leaf-24kB"><use href="#b3" x="783" y="785"/><text class="nt f8" x="780" y="792">24kB</text></g>
<g id="leaf-4.75kB"><use href="#b3" x="1054" y="785"/><text class="nt f8" x="1051" y="792">4.75kB</text></g>
<g id="leaf-128B"><use href="#b3" x="1344" y="785"/><text class="nt f8" x="1341" y="792">128B</text></g>
<g id="leaf-648kB"><use href="#b3" x="2972" y="785"/><text class="nt f8" x="2969" y="792">648kB</text></g>
<g id="leaf-4kB"><use href="#b3" x="3158" y="785"/><text class="nt f8" x="3155" y="792">4kB</text></g>
<g id="leaf-3kB-a"><use href="#b3" x="1309" y="1127"/><text class="nt f8" x="1306" y="1134">3kB</text></g>
<g id="leaf-16B-a"><use href="#b3" x="1559" y="1127"/><text class="nt f8" x="1556" y="1134">16B</text></g>
<g id="leaf-112B"><use href="#b3" x="2322" y="1445"/><text class="nt f8" x="2319" y="1452">112B</text></g>
<g id="leaf-32B"><use href="#b3" x="2555" y="1445"/><text class="nt f8" x="2552" y="1452">32B</text></g>
<g id="leaf-16B-b"><use href="#b3" x="2652" y="1445"/><text class="nt f8" x="2649" y="1452">16B</text></g>
<g id="leaf-176B"><use href="#b3" x="3113" y="1594"/><text class="nt f8" x="3110" y="1601">176B</text></g>
<g id="leaf-48B-a"><use href="#b3" x="2738" y="1798"/><text class="nt f8" x="2735" y="1805">48B</text></g>
<g id="leaf-1.06MB"><use href="#b3" x="1759" y="1998"/><text class="nt f8" x="1756" y="2005">1.06MB</text></g>
<g id="leaf-3kB-b"><use href="#b3" x="2910" y="1998"/><text class="nt f8" x="2907" y="2005">3kB</text></g>
<g id="leaf-208B"><use href="#b3" x="1970" y="2182"/><text class="nt f8" x="1967" y="2189">208B</text></g>
<g id="leaf-26.62kB"><use href="#b3" x="2066" y="2182"/><text class="nt f8" x="2063" y="2189">26.62kB</text></g>
<g id="leaf-48B-b"><use href="#b3" x="2178" y="2182"/><text class="nt f8" x="2175" y="2189">48B</text></g>
<g id="leaf-88kB"><use href="#b3" x="1501" y="2316"/><text class="nt f8" x="1498" y="2323">88kB</text></g>
</svg>
